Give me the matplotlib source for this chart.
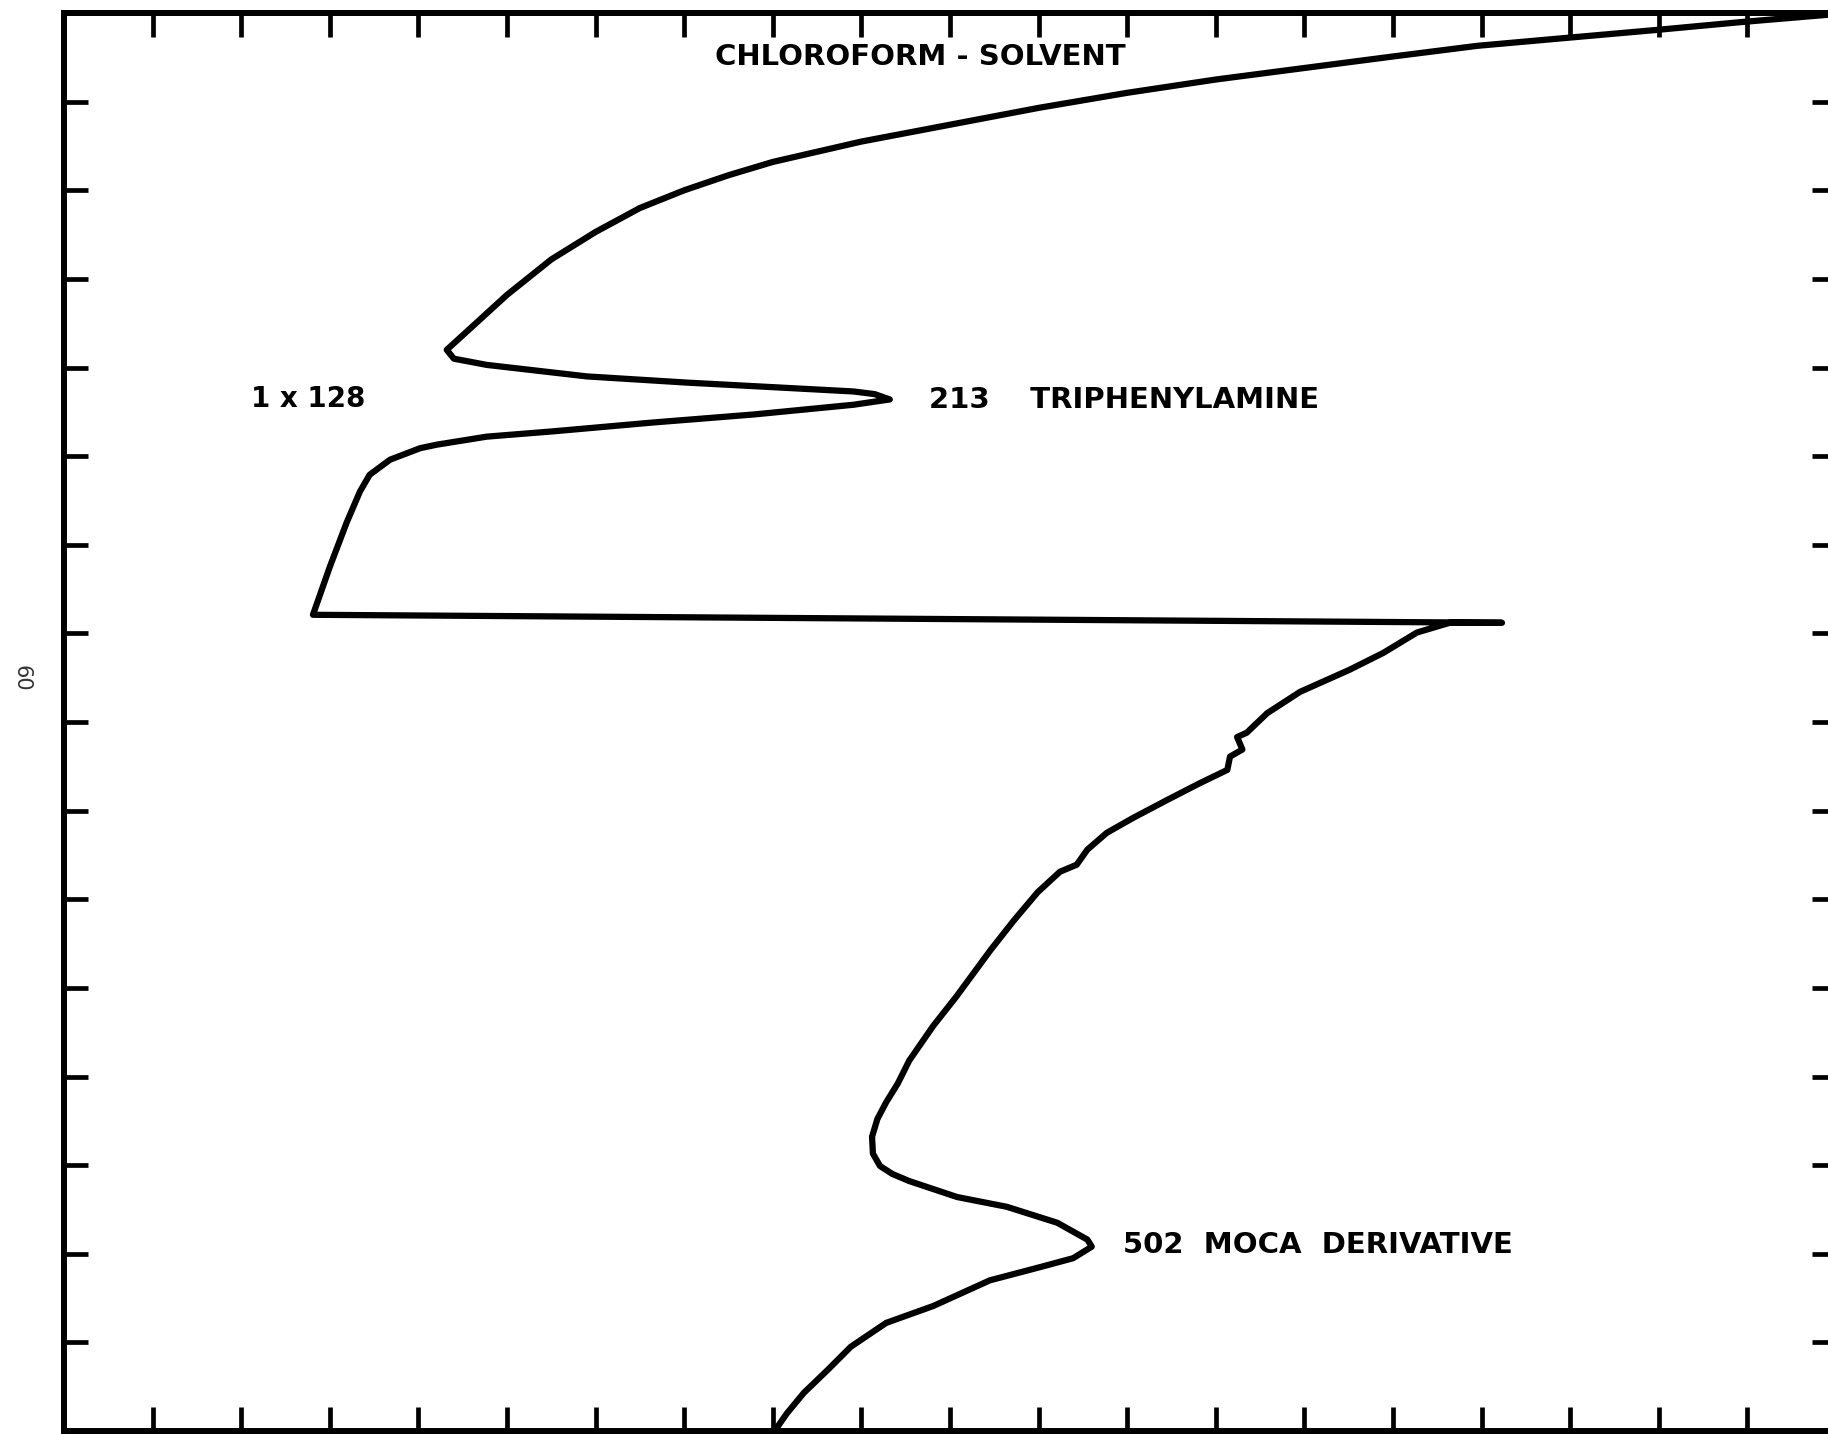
import matplotlib
matplotlib.use("Agg")
import matplotlib.pyplot as plt

# recorder trace, chart divisions (x: 0-20 across, y: 0-16 up the page)
trace_x = [20.0, 19.9, 18.95, 17.98, 16.96, 15.95, 15.0, 14.0, 13.0, 12.0,
           11.0, 10.0, 9.0, 8.0, 7.5, 7.0, 6.5, 6.0, 5.5, 5.0, 4.54, 4.32,
           4.40, 4.77, 5.90, 7.03, 8.16, 8.91, 9.15, 9.32, 8.91, 7.78, 6.65,
           5.52, 4.77, 4.21, 4.02, 3.68, 3.45, 3.34, 3.19, 3.00, 2.81,
           16.23, 15.64, 15.27, 14.89, 14.51, 13.95, 13.58, 13.35, 13.24,
           13.30, 13.16, 13.13, 12.82, 12.45, 12.07, 11.77, 11.55, 11.43,
           11.24, 10.99, 10.72, 10.46, 10.07, 9.81, 9.54, 9.41, 9.28, 9.18,
           9.12, 9.13, 9.21, 9.35, 9.54, 10.08, 10.64, 11.21, 11.55, 11.60,
           11.39, 11.02, 10.45, 9.81, 9.28, 8.88, 8.62, 8.35, 8.16, 8.02, 7.96]
trace_y = [16.0, 15.98, 15.90, 15.81, 15.72, 15.63, 15.51, 15.38, 15.25, 15.10,
           14.93, 14.74, 14.55, 14.32, 14.17, 14.00, 13.80, 13.53, 13.22, 12.82,
           12.40, 12.20, 12.10, 12.03, 11.90, 11.83, 11.77, 11.73, 11.70, 11.64,
           11.58, 11.47, 11.38, 11.28, 11.22, 11.13, 11.09, 10.96, 10.79, 10.60,
           10.25, 9.75, 9.21,
           9.12, 9.12, 9.01, 8.78, 8.59, 8.34, 8.10, 7.88, 7.83, 7.69, 7.61,
           7.46, 7.31, 7.12, 6.92, 6.75, 6.56, 6.39, 6.31, 6.08, 5.76, 5.43,
           4.90, 4.57, 4.18, 3.92, 3.71, 3.52, 3.32, 3.13, 2.99, 2.90, 2.82,
           2.64, 2.53, 2.35, 2.16, 2.08, 1.95, 1.85, 1.70, 1.41, 1.22, 0.95,
           0.69, 0.43, 0.20, 0.0, -0.1]

x_ticks = list(range(1, 20))
y_ticks = list(range(1, 16))

labels = ["CHLOROFORM - SOLVENT", "213    TRIPHENYLAMINE", "1 x 128", "502  MOCA  DERIVATIVE"]
label_x = [9.66, 9.76, 2.11, 11.95]
label_y = [15.50, 11.63, 11.65, 2.10]
label_ha = ["center", "left", "left", "left"]
label_size = [21, 21, 20, 21]

fig = plt.figure(figsize=(18.28, 14.34), dpi=100)
ax = fig.add_axes([0.035, 0.0021, 0.9694, 0.9888])

ax.plot(trace_x, trace_y, color="black", linewidth=4.5,
        solid_capstyle="round", solid_joinstyle="round")

ax.set_xlim(0, 20)
ax.set_ylim(0, 16)
ax.set_xticks(x_ticks)
ax.set_yticks(y_ticks)
ax.tick_params(direction="in", length=17, width=3.4, color="black",
               top=True, right=True, labelbottom=False, labelleft=False)
for s in ax.spines.values():
    s.set_linewidth(4.3)

for t, x, y, ha, fs in zip(labels, label_x, label_y, label_ha, label_size):
    ax.text(x, y, t, fontsize=fs, fontweight="bold", ha=ha, va="center", color="black")

fig.text(0.0115, 0.527, "60", rotation=-90, fontsize=15, color="#333333",
         ha="center", va="center")

fig.savefig("out.png", dpi=100)
